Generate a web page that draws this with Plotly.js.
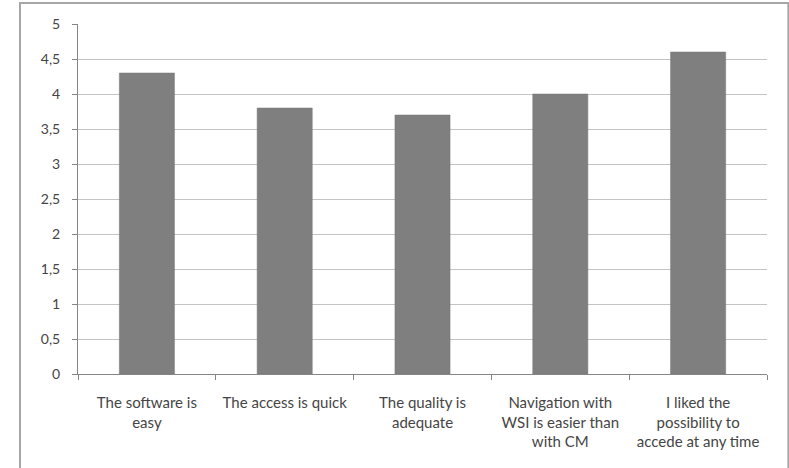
<!DOCTYPE html>
<html><head><meta charset="utf-8">
<script src="https://cdn.plot.ly/plotly-3.0.1.min.js"></script>
<style>html,body{margin:0;padding:0;background:#fff}#chart{width:789px;height:468px}</style>
</head><body><div id="chart"></div>
<script>
var categories = ["The software is<br>easy", "The access is quick", "The quality is<br>adequate", "Navigation with<br>WSI is easier than<br>with CM", "I liked the<br>possibility to<br>accede at any time"];
var values = [4.3, 3.8, 3.7, 4.0, 4.6];
var yTicks = [0, 0.5, 1, 1.5, 2, 2.5, 3, 3.5, 4, 4.5, 5];

var trace = {
  type: "bar", x: categories, y: values,
  marker: {color: "#7f7f7f", line: {color: "#777777", width: 0.5}},
  hoverinfo: "none"
};
var layout = {
  width: 789, height: 468,
  margin: {l: 78, r: 22, t: 24, b: 94},
  paper_bgcolor: "#ffffff", plot_bgcolor: "#ffffff",
  separators: ", ",
  bargap: 0.6,
  showlegend: false,
  font: {family: "Lato, 'Open Sans', sans-serif", size: 14, color: "#454545"},
  xaxis: {
    type: "category", tickson: "boundaries", ticks: "outside", ticklen: 5,
    tickcolor: "#868686", showline: true, linecolor: "#868686", linewidth: 1,
    showgrid: false, tickangle: 0, tickfont: {size: 15, color: "#454545"},
    ticklabelstandoff: 15
  },
  yaxis: {
    range: [0, 5], tickvals: yTicks, ticks: "outside", ticklen: 5,
    tickcolor: "#868686", showline: true, linecolor: "#868686", linewidth: 1,
    showgrid: true, gridcolor: "#c4c4c4", gridwidth: 1, zeroline: false,
    tickfont: {size: 14, color: "#454545"}, ticklabelstandoff: 9
  },
  shapes: [{
    type: "rect", xref: "paper", yref: "paper",
    x0: -0.0842, x1: 1.031, y0: -0.30, y1: 1.06,
    line: {color: "#a6a6a6", width: 2}, fillcolor: "rgba(0,0,0,0)", layer: "below"
  }]
};
Plotly.newPlot("chart", [trace], layout, {displayModeBar: false, staticPlot: true});
</script></body></html>
